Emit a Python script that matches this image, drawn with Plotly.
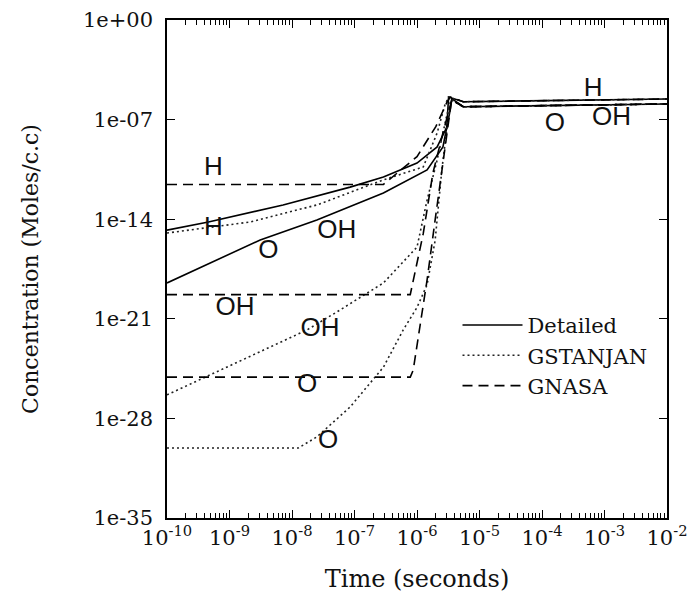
import plotly.graph_objects as go

# ---------------- data ----------------
# Detailed mechanism (solid)
det_h_t = [1e-10, 4.6e-10, 7.2e-9, 8.5e-8, 2.9e-7, 1.0e-6, 2.1e-6, 3.0e-6, 3.2e-6, 5.5e-6, 1e-2]
det_h_c = [1.7e-15, 6.3e-15, 1.0e-13, 1.8e-12, 9.3e-12, 8.9e-11, 1.2e-9, 3.0e-8, 3.9e-6, 1.8e-6, 2.8e-6]
det_o_t = [1e-10, 3.1e-9, 2.5e-8, 2.9e-7, 1.45e-6, 2.6e-6, 3.4e-6, 3.6e-6, 5.5e-6, 1e-2]
det_o_c = [3.3e-19, 3.5e-16, 8.9e-15, 6.9e-13, 2.9e-11, 1.2e-9, 4.8e-7, 3.0e-6, 8.0e-7, 1.26e-6]

# GSTANJAN (dotted)
gst_h_t = [1e-10, 2.1e-9, 2.5e-8, 2.9e-7, 1.26e-6, 2.1e-6, 2.8e-6, 3.2e-6, 5.5e-6, 1e-2]
gst_h_c = [1.07e-15, 6.3e-15, 1.0e-13, 5.8e-12, 4.7e-11, 1.15e-8, 1.1e-6, 3.9e-6, 1.8e-6, 2.8e-6]
gst_oh_t = [1e-10, 1.74e-8, 5.2e-8, 2.9e-7, 1.0e-6, 1.45e-6, 2.1e-6, 3.0e-6, 3.5e-6, 5.5e-6, 1e-2]
gst_oh_c = [4.5e-27, 1.66e-22, 3.0e-21, 3.3e-19, 1.1e-16, 2.2e-13, 1.45e-10, 2.1e-7, 2.5e-6, 8.0e-7, 1.26e-6]
gst_o_t = [1e-10, 1.26e-8, 2.5e-8, 8.5e-8, 2.9e-7, 6.0e-7, 1.0e-6, 1.45e-6, 1.95e-6, 2.5e-6, 3.2e-6, 3.6e-6, 5.5e-6, 1e-2]
gst_o_c = [8.3e-31, 8.3e-31, 5.0e-30, 6.3e-28, 4.0e-25, 1.6e-22, 6.3e-21, 2.5e-19, 3.2e-16, 3.2e-11, 2.0e-7, 2.5e-6, 8.0e-7, 1.26e-6]

# GNASA (dashed)
gna_h_t = [1e-10, 2.9e-7, 1.0e-6, 2.0e-6, 3.0e-6, 3.4e-6, 5.5e-6, 1e-2]
gna_h_c = [2.75e-12, 2.75e-12, 2.5e-10, 3.2e-8, 1.6e-6, 3.9e-6, 1.8e-6, 2.8e-6]
gna_oh_t = [1e-10, 7.8e-7, 1.26e-6, 1.8e-6, 2.6e-6, 3.3e-6, 3.6e-6, 5.5e-6, 1e-2]
gna_oh_c = [5.0e-20, 5.0e-20, 1.0e-15, 1.8e-11, 1.15e-8, 6.3e-7, 2.5e-6, 8.0e-7, 1.26e-6]
gna_o_t = [1e-10, 7.8e-7, 8.7e-7, 1.45e-6, 1.95e-6, 2.6e-6, 3.4e-6, 3.6e-6, 5.5e-6, 1e-2]
gna_o_c = [7.9e-26, 7.9e-26, 2.5e-25, 5.4e-19, 8.9e-15, 1.45e-10, 4.8e-7, 2.5e-6, 8.0e-7, 1.26e-6]

# species labels written on the chart
lab_text = ["H", "H", "O", "OH", "OH", "OH", "O", "O", "H", "O", "OH"]
lab_t = [5.5e-10, 5.5e-10, 4.2e-9, 5.2e-8, 1.23e-9, 2.8e-8, 1.74e-8, 3.8e-8, 6.6e-4, 1.6e-4, 1.3e-3]
lab_c = [3.6e-11, 2.1e-15, 5.2e-17, 1.3e-15, 5.0e-21, 1.7e-22, 1.9e-26, 2.4e-30, 1.25e-5, 4.4e-8, 1.15e-7]

legend_names = ["Detailed", "GSTANJAN", "GNASA"]
y_tickvals = [1e0, 1e-7, 1e-14, 1e-21, 1e-28, 1e-35]
y_ticktext = ["1e+00", "1e-07", "1e-14", "1e-21", "1e-28", "1e-35"]
x_tickvals = [1e-10, 1e-9, 1e-8, 1e-7, 1e-6, 1e-5, 1e-4, 1e-3, 1e-2]
x_ticktext = ["10<sup>-10</sup>", "10<sup>-9</sup>", "10<sup>-8</sup>", "10<sup>-7</sup>",
              "10<sup>-6</sup>", "10<sup>-5</sup>", "10<sup>-4</sup>", "10<sup>-3</sup>",
              "10<sup>-2</sup>"]
# minor (unlabelled) tick positions: 2..9 x each decade
x_minor_vals = [m * d for d in x_tickvals[:-1] for m in range(2, 10)]

# ---------------- figure ----------------
SERIF = "DejaVu Serif"
styles = {
    "solid": dict(color="black", width=1.6, dash="solid"),
    "dot": dict(color="#222", width=1.6, dash="2px,3px"),
    "dash": dict(color="black", width=1.6, dash="10px,6px"),
}

fig = go.Figure()

groups = [
    (legend_names[0], "solid", [(det_h_t, det_h_c), (det_o_t, det_o_c)]),
    (legend_names[1], "dot", [(gst_h_t, gst_h_c), (gst_oh_t, gst_oh_c), (gst_o_t, gst_o_c)]),
    (legend_names[2], "dash", [(gna_h_t, gna_h_c), (gna_oh_t, gna_oh_c), (gna_o_t, gna_o_c)]),
]
for name, sty, series in groups:
    for i, (t, c) in enumerate(series):
        fig.add_trace(go.Scatter(
            x=t, y=c, mode="lines", name=name, legendgroup=name,
            showlegend=(i == 0), line=styles[sty], hoverinfo="skip",
        ))

fig.add_trace(go.Scatter(
    x=lab_t, y=lab_c, mode="text", text=lab_text, showlegend=False,
    textfont=dict(family="Liberation Sans", size=26, color="#111"),
    hoverinfo="skip",
))

# page body has an 8px margin: the figure is sized/offset to land on the 696x601 frame
W, H = 680, 585
fig.update_layout(
    width=W, height=H,
    margin=dict(l=159, r=21, t=12, b=75),
    paper_bgcolor="white", plot_bgcolor="white",
    font=dict(family=SERIF, size=21, color="#111"),
    legend=dict(x=0.581, y=0.428, xanchor="left", yanchor="top",
                bgcolor="rgba(0,0,0,0)", font=dict(family=SERIF, size=21),
                tracegroupgap=0, itemwidth=60),
)
fig.update_xaxes(
    type="log", range=[-10, -2], tickmode="array", tickvals=x_tickvals, ticktext=x_ticktext,
    tickangle=0, automargin=False,
    showgrid=False, zeroline=False,
    showline=True, linecolor="black", linewidth=1.6, mirror="ticks",
    ticks="inside", ticklen=8, tickcolor="black", tickwidth=1.3,
    minor=dict(tickmode="array", tickvals=x_minor_vals, ticks="inside", ticklen=5,
               tickcolor="black", tickwidth=1.1, showgrid=False),
    tickfont=dict(family=SERIF, size=21),
    title=dict(text="Time (seconds)", font=dict(family=SERIF, size=24), standoff=22),
)
fig.update_yaxes(
    type="log", range=[-35, 0], tickmode="array", tickvals=y_tickvals, ticktext=y_ticktext,
    automargin=False,
    showgrid=False, zeroline=False,
    showline=True, linecolor="black", linewidth=1.6, mirror="ticks",
    ticks="inside", ticklen=8, tickcolor="black", tickwidth=1.3,
    ticklabelstandoff=8,
    tickfont=dict(family=SERIF, size=21),
    title=dict(text="Concentration (Moles/c.c)", font=dict(family=SERIF, size=22), standoff=38),
)

fig.write_html("out.html")
